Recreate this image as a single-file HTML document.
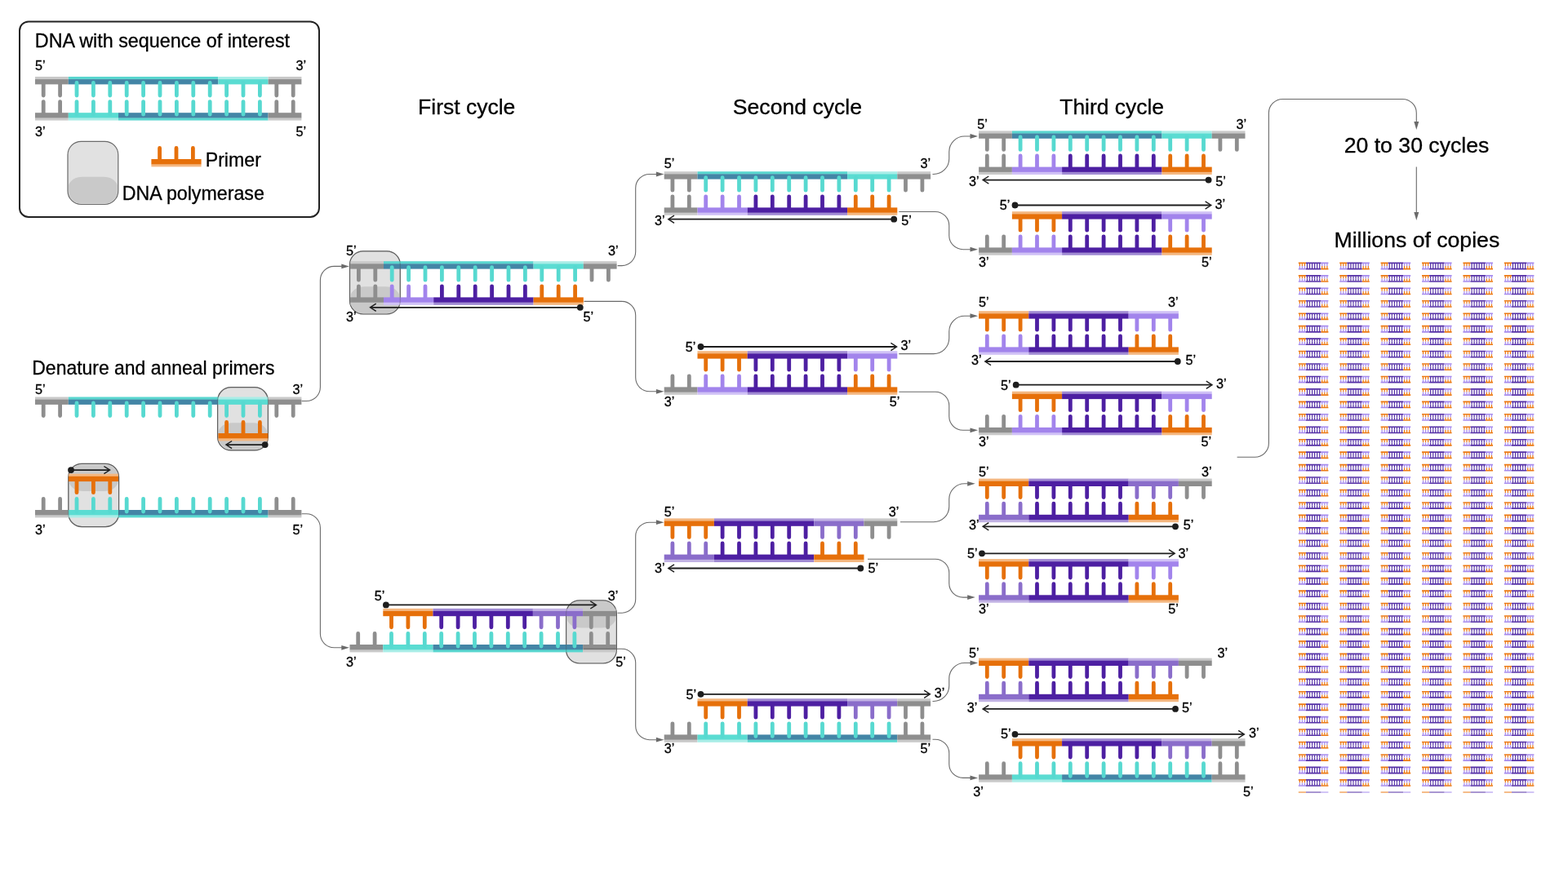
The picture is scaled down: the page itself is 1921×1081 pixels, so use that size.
<!DOCTYPE html>
<html lang="en">
<head>
<meta charset="utf-8">
<title>Polymerase chain reaction</title>
<style>
html,body{margin:0;padding:0;background:#fff;}
body{width:1921px;height:1081px;overflow:hidden;}
svg{display:block;}
text{font-family:"Liberation Sans",sans-serif;fill:#000;stroke:#000;stroke-width:0.3px;}
</style>
</head>
<body>
<svg width="1921" height="1081" viewBox="0 0 1921 1081">
<rect width="1921" height="1081" fill="#fff"/>
<rect x="24" y="26.4" width="367" height="239.6" rx="11" ry="11" fill="#fff" stroke="#222" stroke-width="2"/>
<text x="42.8" y="58.4" font-size="23.4" textLength="312.3" lengthAdjust="spacingAndGlyphs">DNA with sequence of interest</text>
<text x="43" y="86.2" font-size="16.2">5’</text>
<text x="362.5" y="86.2" font-size="16.2">3’</text>
<rect x="43" y="94" width="40.8" height="3.4" fill="#c9c9c9"/>
<rect x="43" y="97.1" width="40.8" height="6.3" fill="#8e8e8e"/>
<rect x="83.8" y="94" width="183.6" height="3.4" fill="#59d6cf"/>
<rect x="83.8" y="97.1" width="183.6" height="6.3" fill="#4385a6"/>
<rect x="267.4" y="94" width="61.2" height="3.4" fill="#a9ede7"/>
<rect x="267.4" y="97.1" width="61.2" height="6.3" fill="#5adcd2"/>
<rect x="328.6" y="94" width="40.8" height="3.4" fill="#c9c9c9"/>
<rect x="328.6" y="97.1" width="40.8" height="6.3" fill="#8e8e8e"/>
<path d="M53.2 101.4V117M73.6 101.4V117" stroke="#8e8e8e" stroke-width="4.8" stroke-linecap="round" fill="none"/>
<path d="M94 101.4V117M114.4 101.4V117M134.8 101.4V117M155.2 101.4V117M175.6 101.4V117M196 101.4V117M216.4 101.4V117M236.8 101.4V117M257.2 101.4V117" stroke="#57d9d0" stroke-width="4.8" stroke-linecap="round" fill="none"/>
<path d="M277.6 101.4V117M298 101.4V117M318.4 101.4V117" stroke="#57d9d0" stroke-width="4.8" stroke-linecap="round" fill="none"/>
<path d="M338.8 101.4V117M359.2 101.4V117" stroke="#8e8e8e" stroke-width="4.8" stroke-linecap="round" fill="none"/>
<rect x="43" y="144.2" width="40.8" height="3.4" fill="#c9c9c9"/>
<rect x="43" y="138.2" width="40.8" height="6.3" fill="#8e8e8e"/>
<rect x="83.8" y="144.2" width="61.2" height="3.4" fill="#a9ede7"/>
<rect x="83.8" y="138.2" width="61.2" height="6.3" fill="#5adcd2"/>
<rect x="145" y="144.2" width="183.6" height="3.4" fill="#59d6cf"/>
<rect x="145" y="138.2" width="183.6" height="6.3" fill="#4385a6"/>
<rect x="328.6" y="144.2" width="40.8" height="3.4" fill="#c9c9c9"/>
<rect x="328.6" y="138.2" width="40.8" height="6.3" fill="#8e8e8e"/>
<path d="M53.2 140.2V124.6M73.6 140.2V124.6" stroke="#8e8e8e" stroke-width="4.8" stroke-linecap="round" fill="none"/>
<path d="M94 140.2V124.6M114.4 140.2V124.6M134.8 140.2V124.6" stroke="#57d9d0" stroke-width="4.8" stroke-linecap="round" fill="none"/>
<path d="M155.2 140.2V124.6M175.6 140.2V124.6M196 140.2V124.6M216.4 140.2V124.6M236.8 140.2V124.6M257.2 140.2V124.6M277.6 140.2V124.6M298 140.2V124.6M318.4 140.2V124.6" stroke="#57d9d0" stroke-width="4.8" stroke-linecap="round" fill="none"/>
<path d="M338.8 140.2V124.6M359.2 140.2V124.6" stroke="#8e8e8e" stroke-width="4.8" stroke-linecap="round" fill="none"/>
<text x="43" y="166.5" font-size="16.2">3’</text>
<text x="362.5" y="166.5" font-size="16.2">5’</text>
<rect x="83" y="173.3" width="61.8" height="77.2" rx="16.4" ry="16.4" fill="#e1e1e1" stroke="#6a6a6a" stroke-width="1.2"/>
<path d="M84.1 226.8C86.6 220.8 92.1 216.8 101.1 216.8H126.7C135.7 216.8 141.2 220.8 143.7 226.8V234.1A15.3 15.3 0 0 1 128.4 249.4H99.4A15.3 15.3 0 0 1 84.1 234.1Z" fill="#c9c9c9"/>
<rect x="185.4" y="201" width="61.2" height="3.4" fill="#f4b780"/>
<rect x="185.4" y="195" width="61.2" height="6.3" fill="#e6700a"/>
<path d="M195.6 197V181.4M216 197V181.4M236.4 197V181.4" stroke="#e6700a" stroke-width="4.8" stroke-linecap="round" fill="none"/>
<text x="251.7" y="204" font-size="23.4" textLength="68.2" lengthAdjust="spacingAndGlyphs">Primer</text>
<text x="149.7" y="245" font-size="23.4" textLength="174.2" lengthAdjust="spacingAndGlyphs">DNA polymerase</text>
<text x="39.3" y="458.8" font-size="23.4" textLength="297.2" lengthAdjust="spacingAndGlyphs">Denature and anneal primers</text>
<text x="43" y="483.1" font-size="16.2">5’</text>
<text x="358.6" y="483.1" font-size="16.2">3’</text>
<rect x="266.6" y="474.7" width="61.8" height="77.2" rx="16.4" ry="16.4" fill="#e1e1e1" stroke="#6a6a6a" stroke-width="1.2"/>
<path d="M267.7 528.2C270.2 522.2 275.7 518.2 284.7 518.2H310.3C319.3 518.2 324.8 522.2 327.3 528.2V535.5A15.3 15.3 0 0 1 312 550.8H283A15.3 15.3 0 0 1 267.7 535.5Z" fill="#c9c9c9"/>
<rect x="43" y="486.5" width="40.8" height="3.4" fill="#c9c9c9"/>
<rect x="43" y="489.6" width="40.8" height="6.3" fill="#8e8e8e"/>
<rect x="83.8" y="486.5" width="183.6" height="3.4" fill="#59d6cf"/>
<rect x="83.8" y="489.6" width="183.6" height="6.3" fill="#4385a6"/>
<rect x="267.4" y="486.5" width="61.2" height="3.4" fill="#a9ede7"/>
<rect x="267.4" y="489.6" width="61.2" height="6.3" fill="#5adcd2"/>
<rect x="328.6" y="486.5" width="40.8" height="3.4" fill="#c9c9c9"/>
<rect x="328.6" y="489.6" width="40.8" height="6.3" fill="#8e8e8e"/>
<path d="M53.2 493.9V509.5M73.6 493.9V509.5" stroke="#8e8e8e" stroke-width="4.8" stroke-linecap="round" fill="none"/>
<path d="M94 493.9V509.5M114.4 493.9V509.5M134.8 493.9V509.5M155.2 493.9V509.5M175.6 493.9V509.5M196 493.9V509.5M216.4 493.9V509.5M236.8 493.9V509.5M257.2 493.9V509.5" stroke="#57d9d0" stroke-width="4.8" stroke-linecap="round" fill="none"/>
<path d="M277.6 493.9V509.5M298 493.9V509.5M318.4 493.9V509.5" stroke="#57d9d0" stroke-width="4.8" stroke-linecap="round" fill="none"/>
<path d="M338.8 493.9V509.5M359.2 493.9V509.5" stroke="#8e8e8e" stroke-width="4.8" stroke-linecap="round" fill="none"/>
<rect x="267.4" y="537" width="61.2" height="3.4" fill="#f4b780"/>
<rect x="267.4" y="531" width="61.2" height="6.3" fill="#e6700a"/>
<path d="M277.6 533V517.4M298 533V517.4M318.4 533V517.4" stroke="#e6700a" stroke-width="4.8" stroke-linecap="round" fill="none"/>
<rect x="266.6" y="474.7" width="61.8" height="77.2" rx="16.4" ry="16.4" fill="none" stroke="#444" stroke-opacity="0.3" stroke-width="1.1"/>
<path d="M324.7 545.1H277.7" stroke="#1d1d1d" stroke-width="1.8" fill="none"/>
<path d="M284.1 540.5L276.9 545.1L284.1 549.7" stroke="#1d1d1d" stroke-width="1.4" fill="none" stroke-linejoin="miter"/>
<circle cx="324.7" cy="545.1" r="3.9" fill="#1d1d1d"/>
<rect x="83.8" y="568.4" width="61.8" height="77.2" rx="16.4" ry="16.4" fill="#e1e1e1" stroke="#6a6a6a" stroke-width="1.2"/>
<path d="M84.9 592.1C87.4 598.1 92.9 602.1 101.9 602.1H127.5C136.5 602.1 142 598.1 144.5 592.1V584.8A15.3 15.3 0 0 0 129.2 569.5H100.2A15.3 15.3 0 0 0 84.9 584.8Z" fill="#c9c9c9"/>
<rect x="83.8" y="580.7" width="61.2" height="3.4" fill="#f4b780"/>
<rect x="83.8" y="583.8" width="61.2" height="6.3" fill="#e6700a"/>
<path d="M94 588.1V603.7M114.4 588.1V603.7M134.8 588.1V603.7" stroke="#e6700a" stroke-width="4.8" stroke-linecap="round" fill="none"/>
<rect x="43" y="631" width="40.8" height="3.4" fill="#c9c9c9"/>
<rect x="43" y="625" width="40.8" height="6.3" fill="#8e8e8e"/>
<rect x="83.8" y="631" width="61.2" height="3.4" fill="#a9ede7"/>
<rect x="83.8" y="625" width="61.2" height="6.3" fill="#5adcd2"/>
<rect x="145" y="631" width="183.6" height="3.4" fill="#59d6cf"/>
<rect x="145" y="625" width="183.6" height="6.3" fill="#4385a6"/>
<rect x="328.6" y="631" width="40.8" height="3.4" fill="#c9c9c9"/>
<rect x="328.6" y="625" width="40.8" height="6.3" fill="#8e8e8e"/>
<path d="M53.2 627V611.4M73.6 627V611.4" stroke="#8e8e8e" stroke-width="4.8" stroke-linecap="round" fill="none"/>
<path d="M94 627V611.4M114.4 627V611.4M134.8 627V611.4" stroke="#57d9d0" stroke-width="4.8" stroke-linecap="round" fill="none"/>
<path d="M155.2 627V611.4M175.6 627V611.4M196 627V611.4M216.4 627V611.4M236.8 627V611.4M257.2 627V611.4M277.6 627V611.4M298 627V611.4M318.4 627V611.4" stroke="#57d9d0" stroke-width="4.8" stroke-linecap="round" fill="none"/>
<path d="M338.8 627V611.4M359.2 627V611.4" stroke="#8e8e8e" stroke-width="4.8" stroke-linecap="round" fill="none"/>
<rect x="83.8" y="568.4" width="61.8" height="77.2" rx="16.4" ry="16.4" fill="none" stroke="#444" stroke-opacity="0.3" stroke-width="1.1"/>
<path d="M87 576.1H133.8" stroke="#1d1d1d" stroke-width="1.8" fill="none"/>
<path d="M127.4 571.5L134.6 576.1L127.4 580.7" stroke="#1d1d1d" stroke-width="1.4" fill="none" stroke-linejoin="miter"/>
<circle cx="87" cy="576.1" r="3.9" fill="#1d1d1d"/>
<text x="43" y="655.4" font-size="16.2">3’</text>
<text x="358.6" y="655.4" font-size="16.2">5’</text>
<text x="512.1" y="140" font-size="26.2" textLength="119.2" lengthAdjust="spacingAndGlyphs">First cycle</text>
<rect x="428.5" y="307.8" width="61.8" height="77.2" rx="16.4" ry="16.4" fill="#e1e1e1" stroke="#6a6a6a" stroke-width="1.2"/>
<path d="M429.6 361.3C432.1 355.3 437.6 351.3 446.6 351.3H472.2C481.2 351.3 486.7 355.3 489.2 361.3V368.6A15.3 15.3 0 0 1 473.9 383.9H444.9A15.3 15.3 0 0 1 429.6 368.6Z" fill="#c9c9c9"/>
<rect x="429.2" y="320.2" width="40.8" height="3.4" fill="#c9c9c9"/>
<rect x="429.2" y="323.3" width="40.8" height="6.3" fill="#8e8e8e"/>
<rect x="470" y="320.2" width="183.6" height="3.4" fill="#59d6cf"/>
<rect x="470" y="323.3" width="183.6" height="6.3" fill="#4385a6"/>
<rect x="653.6" y="320.2" width="61.2" height="3.4" fill="#a9ede7"/>
<rect x="653.6" y="323.3" width="61.2" height="6.3" fill="#5adcd2"/>
<rect x="714.8" y="320.2" width="40.8" height="3.4" fill="#c9c9c9"/>
<rect x="714.8" y="323.3" width="40.8" height="6.3" fill="#8e8e8e"/>
<path d="M439.4 327.6V343.2M459.8 327.6V343.2" stroke="#8e8e8e" stroke-width="4.8" stroke-linecap="round" fill="none"/>
<path d="M480.2 327.6V343.2M500.6 327.6V343.2M521 327.6V343.2M541.4 327.6V343.2M561.8 327.6V343.2M582.2 327.6V343.2M602.6 327.6V343.2M623 327.6V343.2M643.4 327.6V343.2" stroke="#57d9d0" stroke-width="4.8" stroke-linecap="round" fill="none"/>
<path d="M663.8 327.6V343.2M684.2 327.6V343.2M704.6 327.6V343.2" stroke="#57d9d0" stroke-width="4.8" stroke-linecap="round" fill="none"/>
<path d="M725 327.6V343.2M745.4 327.6V343.2" stroke="#8e8e8e" stroke-width="4.8" stroke-linecap="round" fill="none"/>
<rect x="429.2" y="370.4" width="40.8" height="3.4" fill="#c9c9c9"/>
<rect x="429.2" y="364.4" width="40.8" height="6.3" fill="#8e8e8e"/>
<rect x="470" y="370.4" width="61.2" height="3.4" fill="#d0c1f6"/>
<rect x="470" y="364.4" width="61.2" height="6.3" fill="#a284ec"/>
<rect x="531.2" y="370.4" width="122.4" height="3.4" fill="#a08ad3"/>
<rect x="531.2" y="364.4" width="122.4" height="6.3" fill="#4d1fa2"/>
<rect x="653.6" y="370.4" width="61.2" height="3.4" fill="#f4b780"/>
<rect x="653.6" y="364.4" width="61.2" height="6.3" fill="#e6700a"/>
<path d="M439.4 366.4V350.8M459.8 366.4V350.8" stroke="#8e8e8e" stroke-width="4.8" stroke-linecap="round" fill="none"/>
<path d="M480.2 366.4V350.8M500.6 366.4V350.8M521 366.4V350.8" stroke="#a284ec" stroke-width="4.8" stroke-linecap="round" fill="none"/>
<path d="M541.4 366.4V350.8M561.8 366.4V350.8M582.2 366.4V350.8M602.6 366.4V350.8M623 366.4V350.8M643.4 366.4V350.8" stroke="#4d1fa2" stroke-width="4.8" stroke-linecap="round" fill="none"/>
<path d="M663.8 366.4V350.8M684.2 366.4V350.8M704.6 366.4V350.8" stroke="#e6700a" stroke-width="4.8" stroke-linecap="round" fill="none"/>
<rect x="428.5" y="307.8" width="61.8" height="77.2" rx="16.4" ry="16.4" fill="none" stroke="#444" stroke-opacity="0.3" stroke-width="1.1"/>
<path d="M710.8 376.8H454.3" stroke="#1d1d1d" stroke-width="1.8" fill="none"/>
<path d="M460.7 372.2L453.5 376.8L460.7 381.4" stroke="#1d1d1d" stroke-width="1.4" fill="none" stroke-linejoin="miter"/>
<circle cx="710.8" cy="376.8" r="3.9" fill="#1d1d1d"/>
<text x="424" y="313.3" font-size="16.2">5’</text>
<text x="745" y="313.3" font-size="16.2">3’</text>
<text x="424" y="393.9" font-size="16.2">3’</text>
<text x="714.5" y="393.9" font-size="16.2">5’</text>
<rect x="693.6" y="735.8" width="61.8" height="77.2" rx="16.4" ry="16.4" fill="#e1e1e1" stroke="#6a6a6a" stroke-width="1.2"/>
<path d="M694.7 759.5C697.2 765.5 702.7 769.5 711.7 769.5H737.3C746.3 769.5 751.8 765.5 754.3 759.5V752.2A15.3 15.3 0 0 0 739 736.9H710A15.3 15.3 0 0 0 694.7 752.2Z" fill="#c9c9c9"/>
<rect x="469.3" y="745.8" width="61.2" height="3.4" fill="#f4b780"/>
<rect x="469.3" y="748.9" width="61.2" height="6.3" fill="#e6700a"/>
<rect x="530.5" y="745.8" width="122.4" height="3.4" fill="#a08ad3"/>
<rect x="530.5" y="748.9" width="122.4" height="6.3" fill="#4d1fa2"/>
<rect x="652.9" y="745.8" width="61.2" height="3.4" fill="#c2b3e4"/>
<rect x="652.9" y="748.9" width="61.2" height="6.3" fill="#8a6dca"/>
<rect x="714.1" y="745.8" width="40.8" height="3.4" fill="#c9c9c9"/>
<rect x="714.1" y="748.9" width="40.8" height="6.3" fill="#8e8e8e"/>
<path d="M479.5 753.2V768.8M499.9 753.2V768.8M520.3 753.2V768.8" stroke="#e6700a" stroke-width="4.8" stroke-linecap="round" fill="none"/>
<path d="M540.7 753.2V768.8M561.1 753.2V768.8M581.5 753.2V768.8M601.9 753.2V768.8M622.3 753.2V768.8M642.7 753.2V768.8" stroke="#4d1fa2" stroke-width="4.8" stroke-linecap="round" fill="none"/>
<path d="M663.1 753.2V768.8M683.5 753.2V768.8M703.9 753.2V768.8" stroke="#8a6dca" stroke-width="4.8" stroke-linecap="round" fill="none"/>
<path d="M724.3 753.2V768.8M744.7 753.2V768.8" stroke="#8e8e8e" stroke-width="4.8" stroke-linecap="round" fill="none"/>
<rect x="428.5" y="796" width="40.8" height="3.4" fill="#c9c9c9"/>
<rect x="428.5" y="790" width="40.8" height="6.3" fill="#8e8e8e"/>
<rect x="469.3" y="796" width="61.2" height="3.4" fill="#a9ede7"/>
<rect x="469.3" y="790" width="61.2" height="6.3" fill="#5adcd2"/>
<rect x="530.5" y="796" width="183.6" height="3.4" fill="#59d6cf"/>
<rect x="530.5" y="790" width="183.6" height="6.3" fill="#4385a6"/>
<rect x="714.1" y="796" width="40.8" height="3.4" fill="#c9c9c9"/>
<rect x="714.1" y="790" width="40.8" height="6.3" fill="#8e8e8e"/>
<path d="M438.7 792V776.4M459.1 792V776.4" stroke="#8e8e8e" stroke-width="4.8" stroke-linecap="round" fill="none"/>
<path d="M479.5 792V776.4M499.9 792V776.4M520.3 792V776.4" stroke="#57d9d0" stroke-width="4.8" stroke-linecap="round" fill="none"/>
<path d="M540.7 792V776.4M561.1 792V776.4M581.5 792V776.4M601.9 792V776.4M622.3 792V776.4M642.7 792V776.4M663.1 792V776.4M683.5 792V776.4M703.9 792V776.4" stroke="#57d9d0" stroke-width="4.8" stroke-linecap="round" fill="none"/>
<path d="M724.3 792V776.4M744.7 792V776.4" stroke="#8e8e8e" stroke-width="4.8" stroke-linecap="round" fill="none"/>
<rect x="693.6" y="735.8" width="61.8" height="77.2" rx="16.4" ry="16.4" fill="none" stroke="#444" stroke-opacity="0.3" stroke-width="1.1"/>
<path d="M472.9 741.4H729.7" stroke="#1d1d1d" stroke-width="1.8" fill="none"/>
<path d="M723.3 736.8L730.5 741.4L723.3 746" stroke="#1d1d1d" stroke-width="1.4" fill="none" stroke-linejoin="miter"/>
<circle cx="472.9" cy="741.4" r="3.9" fill="#1d1d1d"/>
<text x="458.7" y="736.2" font-size="16.2">5’</text>
<text x="744.7" y="736.2" font-size="16.2">3’</text>
<text x="424" y="817.1" font-size="16.2">3’</text>
<text x="754.3" y="817.1" font-size="16.2">5’</text>
<path d="M369.6 491.5H375.4A17 17 0 0 0 392.4 474.5V343.4A17 17 0 0 1 409.4 326.4H419.9" stroke="#6a6a6a" stroke-width="1.1" fill="none"/>
<path d="M427.9 326.4L418.3 323.5V329.3Z" fill="#6a6a6a"/>
<path d="M369.6 629.8H375.4A17 17 0 0 1 392.4 646.8V776.8A17 17 0 0 0 409.4 793.8H419.9" stroke="#6a6a6a" stroke-width="1.1" fill="none"/>
<path d="M427.9 793.8L418.3 790.9V796.7Z" fill="#6a6a6a"/>
<text x="897.8" y="139.8" font-size="26.2" textLength="158.2" lengthAdjust="spacingAndGlyphs">Second cycle</text>
<rect x="813.7" y="210.2" width="40.8" height="3.4" fill="#c9c9c9"/>
<rect x="813.7" y="213.3" width="40.8" height="6.3" fill="#8e8e8e"/>
<rect x="854.5" y="210.2" width="183.6" height="3.4" fill="#59d6cf"/>
<rect x="854.5" y="213.3" width="183.6" height="6.3" fill="#4385a6"/>
<rect x="1038.1" y="210.2" width="61.2" height="3.4" fill="#a9ede7"/>
<rect x="1038.1" y="213.3" width="61.2" height="6.3" fill="#5adcd2"/>
<rect x="1099.3" y="210.2" width="40.8" height="3.4" fill="#c9c9c9"/>
<rect x="1099.3" y="213.3" width="40.8" height="6.3" fill="#8e8e8e"/>
<path d="M823.9 217.6V233.2M844.3 217.6V233.2" stroke="#8e8e8e" stroke-width="4.8" stroke-linecap="round" fill="none"/>
<path d="M864.7 217.6V233.2M885.1 217.6V233.2M905.5 217.6V233.2M925.9 217.6V233.2M946.3 217.6V233.2M966.7 217.6V233.2M987.1 217.6V233.2M1007.5 217.6V233.2M1027.9 217.6V233.2" stroke="#57d9d0" stroke-width="4.8" stroke-linecap="round" fill="none"/>
<path d="M1048.3 217.6V233.2M1068.7 217.6V233.2M1089.1 217.6V233.2" stroke="#57d9d0" stroke-width="4.8" stroke-linecap="round" fill="none"/>
<path d="M1109.5 217.6V233.2M1129.9 217.6V233.2" stroke="#8e8e8e" stroke-width="4.8" stroke-linecap="round" fill="none"/>
<rect x="813.7" y="260.4" width="40.8" height="3.4" fill="#c9c9c9"/>
<rect x="813.7" y="254.4" width="40.8" height="6.3" fill="#8e8e8e"/>
<rect x="854.5" y="260.4" width="61.2" height="3.4" fill="#d0c1f6"/>
<rect x="854.5" y="254.4" width="61.2" height="6.3" fill="#a284ec"/>
<rect x="915.7" y="260.4" width="122.4" height="3.4" fill="#a08ad3"/>
<rect x="915.7" y="254.4" width="122.4" height="6.3" fill="#4d1fa2"/>
<rect x="1038.1" y="260.4" width="61.2" height="3.4" fill="#f4b780"/>
<rect x="1038.1" y="254.4" width="61.2" height="6.3" fill="#e6700a"/>
<path d="M823.9 256.4V240.8M844.3 256.4V240.8" stroke="#8e8e8e" stroke-width="4.8" stroke-linecap="round" fill="none"/>
<path d="M864.7 256.4V240.8M885.1 256.4V240.8M905.5 256.4V240.8" stroke="#a284ec" stroke-width="4.8" stroke-linecap="round" fill="none"/>
<path d="M925.9 256.4V240.8M946.3 256.4V240.8M966.7 256.4V240.8M987.1 256.4V240.8M1007.5 256.4V240.8M1027.9 256.4V240.8" stroke="#4d1fa2" stroke-width="4.8" stroke-linecap="round" fill="none"/>
<path d="M1048.3 256.4V240.8M1068.7 256.4V240.8M1089.1 256.4V240.8" stroke="#e6700a" stroke-width="4.8" stroke-linecap="round" fill="none"/>
<path d="M1095.2 268.7H819.6" stroke="#1d1d1d" stroke-width="1.8" fill="none"/>
<path d="M826 264.1L818.8 268.7L826 273.3" stroke="#1d1d1d" stroke-width="1.4" fill="none" stroke-linejoin="miter"/>
<circle cx="1095.2" cy="268.7" r="3.9" fill="#1d1d1d"/>
<text x="813.8" y="206.2" font-size="16.2">5’</text>
<text x="1127.6" y="206.2" font-size="16.2">3’</text>
<text x="802" y="275.6" font-size="16.2">3’</text>
<text x="1104.2" y="275.6" font-size="16.2">5’</text>
<rect x="854.5" y="430.2" width="61.2" height="3.4" fill="#f4b780"/>
<rect x="854.5" y="433.3" width="61.2" height="6.3" fill="#e6700a"/>
<rect x="915.7" y="430.2" width="122.4" height="3.4" fill="#a08ad3"/>
<rect x="915.7" y="433.3" width="122.4" height="6.3" fill="#4d1fa2"/>
<rect x="1038.1" y="430.2" width="61.2" height="3.4" fill="#d0c1f6"/>
<rect x="1038.1" y="433.3" width="61.2" height="6.3" fill="#a284ec"/>
<path d="M864.7 437.6V453.2M885.1 437.6V453.2M905.5 437.6V453.2" stroke="#e6700a" stroke-width="4.8" stroke-linecap="round" fill="none"/>
<path d="M925.9 437.6V453.2M946.3 437.6V453.2M966.7 437.6V453.2M987.1 437.6V453.2M1007.5 437.6V453.2M1027.9 437.6V453.2" stroke="#4d1fa2" stroke-width="4.8" stroke-linecap="round" fill="none"/>
<path d="M1048.3 437.6V453.2M1068.7 437.6V453.2M1089.1 437.6V453.2" stroke="#a284ec" stroke-width="4.8" stroke-linecap="round" fill="none"/>
<rect x="813.7" y="480.4" width="40.8" height="3.4" fill="#c9c9c9"/>
<rect x="813.7" y="474.4" width="40.8" height="6.3" fill="#8e8e8e"/>
<rect x="854.5" y="480.4" width="61.2" height="3.4" fill="#d0c1f6"/>
<rect x="854.5" y="474.4" width="61.2" height="6.3" fill="#a284ec"/>
<rect x="915.7" y="480.4" width="122.4" height="3.4" fill="#a08ad3"/>
<rect x="915.7" y="474.4" width="122.4" height="6.3" fill="#4d1fa2"/>
<rect x="1038.1" y="480.4" width="61.2" height="3.4" fill="#f4b780"/>
<rect x="1038.1" y="474.4" width="61.2" height="6.3" fill="#e6700a"/>
<path d="M823.9 476.4V460.8M844.3 476.4V460.8" stroke="#8e8e8e" stroke-width="4.8" stroke-linecap="round" fill="none"/>
<path d="M864.7 476.4V460.8M885.1 476.4V460.8M905.5 476.4V460.8" stroke="#a284ec" stroke-width="4.8" stroke-linecap="round" fill="none"/>
<path d="M925.9 476.4V460.8M946.3 476.4V460.8M966.7 476.4V460.8M987.1 476.4V460.8M1007.5 476.4V460.8M1027.9 476.4V460.8" stroke="#4d1fa2" stroke-width="4.8" stroke-linecap="round" fill="none"/>
<path d="M1048.3 476.4V460.8M1068.7 476.4V460.8M1089.1 476.4V460.8" stroke="#e6700a" stroke-width="4.8" stroke-linecap="round" fill="none"/>
<path d="M858.5 425H1097.8" stroke="#1d1d1d" stroke-width="1.8" fill="none"/>
<path d="M1091.4 420.4L1098.6 425L1091.4 429.6" stroke="#1d1d1d" stroke-width="1.4" fill="none" stroke-linejoin="miter"/>
<circle cx="858.5" cy="425" r="3.9" fill="#1d1d1d"/>
<text x="839.7" y="431.1" font-size="16.2">5’</text>
<text x="1103.6" y="429.1" font-size="16.2">3’</text>
<text x="813.8" y="497.9" font-size="16.2">3’</text>
<text x="1089.8" y="497.9" font-size="16.2">5’</text>
<rect x="813.7" y="635.4" width="61.2" height="3.4" fill="#f4b780"/>
<rect x="813.7" y="638.5" width="61.2" height="6.3" fill="#e6700a"/>
<rect x="874.9" y="635.4" width="122.4" height="3.4" fill="#a08ad3"/>
<rect x="874.9" y="638.5" width="122.4" height="6.3" fill="#4d1fa2"/>
<rect x="997.3" y="635.4" width="61.2" height="3.4" fill="#c2b3e4"/>
<rect x="997.3" y="638.5" width="61.2" height="6.3" fill="#8a6dca"/>
<rect x="1058.5" y="635.4" width="40.8" height="3.4" fill="#c9c9c9"/>
<rect x="1058.5" y="638.5" width="40.8" height="6.3" fill="#8e8e8e"/>
<path d="M823.9 642.8V658.4M844.3 642.8V658.4M864.7 642.8V658.4" stroke="#e6700a" stroke-width="4.8" stroke-linecap="round" fill="none"/>
<path d="M885.1 642.8V658.4M905.5 642.8V658.4M925.9 642.8V658.4M946.3 642.8V658.4M966.7 642.8V658.4M987.1 642.8V658.4" stroke="#4d1fa2" stroke-width="4.8" stroke-linecap="round" fill="none"/>
<path d="M1007.5 642.8V658.4M1027.9 642.8V658.4M1048.3 642.8V658.4" stroke="#8a6dca" stroke-width="4.8" stroke-linecap="round" fill="none"/>
<path d="M1068.7 642.8V658.4M1089.1 642.8V658.4" stroke="#8e8e8e" stroke-width="4.8" stroke-linecap="round" fill="none"/>
<rect x="813.7" y="685.6" width="61.2" height="3.4" fill="#c2b3e4"/>
<rect x="813.7" y="679.6" width="61.2" height="6.3" fill="#8a6dca"/>
<rect x="874.9" y="685.6" width="122.4" height="3.4" fill="#a08ad3"/>
<rect x="874.9" y="679.6" width="122.4" height="6.3" fill="#4d1fa2"/>
<rect x="997.3" y="685.6" width="61.2" height="3.4" fill="#f4b780"/>
<rect x="997.3" y="679.6" width="61.2" height="6.3" fill="#e6700a"/>
<path d="M823.9 681.6V666M844.3 681.6V666M864.7 681.6V666" stroke="#8a6dca" stroke-width="4.8" stroke-linecap="round" fill="none"/>
<path d="M885.1 681.6V666M905.5 681.6V666M925.9 681.6V666M946.3 681.6V666M966.7 681.6V666M987.1 681.6V666" stroke="#4d1fa2" stroke-width="4.8" stroke-linecap="round" fill="none"/>
<path d="M1007.5 681.6V666M1027.9 681.6V666M1048.3 681.6V666" stroke="#e6700a" stroke-width="4.8" stroke-linecap="round" fill="none"/>
<path d="M1054.3 696.5H819.6" stroke="#1d1d1d" stroke-width="1.8" fill="none"/>
<path d="M826 691.9L818.8 696.5L826 701.1" stroke="#1d1d1d" stroke-width="1.4" fill="none" stroke-linejoin="miter"/>
<circle cx="1054.3" cy="696.5" r="3.9" fill="#1d1d1d"/>
<text x="813.8" y="633.1" font-size="16.2">5’</text>
<text x="1088.7" y="633.1" font-size="16.2">3’</text>
<text x="802" y="701.5" font-size="16.2">3’</text>
<text x="1063.5" y="701.5" font-size="16.2">5’</text>
<rect x="854.5" y="856.2" width="61.2" height="3.4" fill="#f4b780"/>
<rect x="854.5" y="859.3" width="61.2" height="6.3" fill="#e6700a"/>
<rect x="915.7" y="856.2" width="122.4" height="3.4" fill="#a08ad3"/>
<rect x="915.7" y="859.3" width="122.4" height="6.3" fill="#4d1fa2"/>
<rect x="1038.1" y="856.2" width="61.2" height="3.4" fill="#c2b3e4"/>
<rect x="1038.1" y="859.3" width="61.2" height="6.3" fill="#8a6dca"/>
<rect x="1099.3" y="856.2" width="40.8" height="3.4" fill="#c9c9c9"/>
<rect x="1099.3" y="859.3" width="40.8" height="6.3" fill="#8e8e8e"/>
<path d="M864.7 863.6V879.2M885.1 863.6V879.2M905.5 863.6V879.2" stroke="#e6700a" stroke-width="4.8" stroke-linecap="round" fill="none"/>
<path d="M925.9 863.6V879.2M946.3 863.6V879.2M966.7 863.6V879.2M987.1 863.6V879.2M1007.5 863.6V879.2M1027.9 863.6V879.2" stroke="#4d1fa2" stroke-width="4.8" stroke-linecap="round" fill="none"/>
<path d="M1048.3 863.6V879.2M1068.7 863.6V879.2M1089.1 863.6V879.2" stroke="#8a6dca" stroke-width="4.8" stroke-linecap="round" fill="none"/>
<path d="M1109.5 863.6V879.2M1129.9 863.6V879.2" stroke="#8e8e8e" stroke-width="4.8" stroke-linecap="round" fill="none"/>
<rect x="813.7" y="906.4" width="40.8" height="3.4" fill="#c9c9c9"/>
<rect x="813.7" y="900.4" width="40.8" height="6.3" fill="#8e8e8e"/>
<rect x="854.5" y="906.4" width="61.2" height="3.4" fill="#a9ede7"/>
<rect x="854.5" y="900.4" width="61.2" height="6.3" fill="#5adcd2"/>
<rect x="915.7" y="906.4" width="183.6" height="3.4" fill="#59d6cf"/>
<rect x="915.7" y="900.4" width="183.6" height="6.3" fill="#4385a6"/>
<rect x="1099.3" y="906.4" width="40.8" height="3.4" fill="#c9c9c9"/>
<rect x="1099.3" y="900.4" width="40.8" height="6.3" fill="#8e8e8e"/>
<path d="M823.9 902.4V886.8M844.3 902.4V886.8" stroke="#8e8e8e" stroke-width="4.8" stroke-linecap="round" fill="none"/>
<path d="M864.7 902.4V886.8M885.1 902.4V886.8M905.5 902.4V886.8" stroke="#57d9d0" stroke-width="4.8" stroke-linecap="round" fill="none"/>
<path d="M925.9 902.4V886.8M946.3 902.4V886.8M966.7 902.4V886.8M987.1 902.4V886.8M1007.5 902.4V886.8M1027.9 902.4V886.8M1048.3 902.4V886.8M1068.7 902.4V886.8M1089.1 902.4V886.8" stroke="#57d9d0" stroke-width="4.8" stroke-linecap="round" fill="none"/>
<path d="M1109.5 902.4V886.8M1129.9 902.4V886.8" stroke="#8e8e8e" stroke-width="4.8" stroke-linecap="round" fill="none"/>
<path d="M858.5 850.8H1138.6" stroke="#1d1d1d" stroke-width="1.8" fill="none"/>
<path d="M1132.2 846.2L1139.4 850.8L1132.2 855.4" stroke="#1d1d1d" stroke-width="1.4" fill="none" stroke-linejoin="miter"/>
<circle cx="858.5" cy="850.8" r="3.9" fill="#1d1d1d"/>
<text x="840.6" y="856.5" font-size="16.2">5’</text>
<text x="1144.8" y="854.9" font-size="16.2">3’</text>
<text x="813.8" y="922.9" font-size="16.2">3’</text>
<text x="1127.6" y="922.9" font-size="16.2">5’</text>
<path d="M756.6 325.6H761.7A17 17 0 0 0 778.7 308.6V230.5A17 17 0 0 1 795.7 213.5H805.5" stroke="#6a6a6a" stroke-width="1.1" fill="none"/>
<path d="M813.5 213.5L803.9 210.6V216.4Z" fill="#6a6a6a"/>
<path d="M715.5 369.4H761.7A17 17 0 0 1 778.7 386.4V462.8A17 17 0 0 0 795.7 479.8H805.5" stroke="#6a6a6a" stroke-width="1.1" fill="none"/>
<path d="M813.5 479.8L803.9 476.9V482.7Z" fill="#6a6a6a"/>
<path d="M756.6 751.2H761.7A17 17 0 0 0 778.7 734.2V657.2A17 17 0 0 1 795.7 640.2H805.5" stroke="#6a6a6a" stroke-width="1.1" fill="none"/>
<path d="M813.5 640.2L803.9 637.3V643.1Z" fill="#6a6a6a"/>
<path d="M715 795.3H761.7A17 17 0 0 1 778.7 812.3V889.7A17 17 0 0 0 795.7 906.7H805.5" stroke="#6a6a6a" stroke-width="1.1" fill="none"/>
<path d="M813.5 906.7L803.9 903.8V909.6Z" fill="#6a6a6a"/>
<text x="1298.3" y="139.8" font-size="26.2" textLength="127.7" lengthAdjust="spacingAndGlyphs">Third cycle</text>
<rect x="1199.1" y="160.4" width="40.8" height="3.4" fill="#c9c9c9"/>
<rect x="1199.1" y="163.5" width="40.8" height="6.3" fill="#8e8e8e"/>
<rect x="1239.9" y="160.4" width="183.6" height="3.4" fill="#59d6cf"/>
<rect x="1239.9" y="163.5" width="183.6" height="6.3" fill="#4385a6"/>
<rect x="1423.5" y="160.4" width="61.2" height="3.4" fill="#a9ede7"/>
<rect x="1423.5" y="163.5" width="61.2" height="6.3" fill="#5adcd2"/>
<rect x="1484.7" y="160.4" width="40.8" height="3.4" fill="#c9c9c9"/>
<rect x="1484.7" y="163.5" width="40.8" height="6.3" fill="#8e8e8e"/>
<path d="M1209.3 167.8V183.4M1229.7 167.8V183.4" stroke="#8e8e8e" stroke-width="4.8" stroke-linecap="round" fill="none"/>
<path d="M1250.1 167.8V183.4M1270.5 167.8V183.4M1290.9 167.8V183.4M1311.3 167.8V183.4M1331.7 167.8V183.4M1352.1 167.8V183.4M1372.5 167.8V183.4M1392.9 167.8V183.4M1413.3 167.8V183.4" stroke="#57d9d0" stroke-width="4.8" stroke-linecap="round" fill="none"/>
<path d="M1433.7 167.8V183.4M1454.1 167.8V183.4M1474.5 167.8V183.4" stroke="#57d9d0" stroke-width="4.8" stroke-linecap="round" fill="none"/>
<path d="M1494.9 167.8V183.4M1515.3 167.8V183.4" stroke="#8e8e8e" stroke-width="4.8" stroke-linecap="round" fill="none"/>
<rect x="1199.1" y="210.6" width="40.8" height="3.4" fill="#c9c9c9"/>
<rect x="1199.1" y="204.6" width="40.8" height="6.3" fill="#8e8e8e"/>
<rect x="1239.9" y="210.6" width="61.2" height="3.4" fill="#d0c1f6"/>
<rect x="1239.9" y="204.6" width="61.2" height="6.3" fill="#a284ec"/>
<rect x="1301.1" y="210.6" width="122.4" height="3.4" fill="#a08ad3"/>
<rect x="1301.1" y="204.6" width="122.4" height="6.3" fill="#4d1fa2"/>
<rect x="1423.5" y="210.6" width="61.2" height="3.4" fill="#f4b780"/>
<rect x="1423.5" y="204.6" width="61.2" height="6.3" fill="#e6700a"/>
<path d="M1209.3 206.6V191M1229.7 206.6V191" stroke="#8e8e8e" stroke-width="4.8" stroke-linecap="round" fill="none"/>
<path d="M1250.1 206.6V191M1270.5 206.6V191M1290.9 206.6V191" stroke="#a284ec" stroke-width="4.8" stroke-linecap="round" fill="none"/>
<path d="M1311.3 206.6V191M1331.7 206.6V191M1352.1 206.6V191M1372.5 206.6V191M1392.9 206.6V191M1413.3 206.6V191" stroke="#4d1fa2" stroke-width="4.8" stroke-linecap="round" fill="none"/>
<path d="M1433.7 206.6V191M1454.1 206.6V191M1474.5 206.6V191" stroke="#e6700a" stroke-width="4.8" stroke-linecap="round" fill="none"/>
<path d="M1480.6 220.6H1204.9" stroke="#1d1d1d" stroke-width="1.8" fill="none"/>
<path d="M1211.3 216L1204.1 220.6L1211.3 225.2" stroke="#1d1d1d" stroke-width="1.4" fill="none" stroke-linejoin="miter"/>
<circle cx="1480.6" cy="220.6" r="3.9" fill="#1d1d1d"/>
<text x="1197.3" y="158.1" font-size="16.2">5’</text>
<text x="1514.5" y="158.1" font-size="16.2">3’</text>
<text x="1187" y="227.5" font-size="16.2">3’</text>
<text x="1489.3" y="227.5" font-size="16.2">5’</text>
<rect x="1239.9" y="259.2" width="61.2" height="3.4" fill="#f4b780"/>
<rect x="1239.9" y="262.3" width="61.2" height="6.3" fill="#e6700a"/>
<rect x="1301.1" y="259.2" width="122.4" height="3.4" fill="#a08ad3"/>
<rect x="1301.1" y="262.3" width="122.4" height="6.3" fill="#4d1fa2"/>
<rect x="1423.5" y="259.2" width="61.2" height="3.4" fill="#d0c1f6"/>
<rect x="1423.5" y="262.3" width="61.2" height="6.3" fill="#a284ec"/>
<path d="M1250.1 266.6V282.2M1270.5 266.6V282.2M1290.9 266.6V282.2" stroke="#e6700a" stroke-width="4.8" stroke-linecap="round" fill="none"/>
<path d="M1311.3 266.6V282.2M1331.7 266.6V282.2M1352.1 266.6V282.2M1372.5 266.6V282.2M1392.9 266.6V282.2M1413.3 266.6V282.2" stroke="#4d1fa2" stroke-width="4.8" stroke-linecap="round" fill="none"/>
<path d="M1433.7 266.6V282.2M1454.1 266.6V282.2M1474.5 266.6V282.2" stroke="#a284ec" stroke-width="4.8" stroke-linecap="round" fill="none"/>
<rect x="1199.1" y="309.4" width="40.8" height="3.4" fill="#c9c9c9"/>
<rect x="1199.1" y="303.4" width="40.8" height="6.3" fill="#8e8e8e"/>
<rect x="1239.9" y="309.4" width="61.2" height="3.4" fill="#d0c1f6"/>
<rect x="1239.9" y="303.4" width="61.2" height="6.3" fill="#a284ec"/>
<rect x="1301.1" y="309.4" width="122.4" height="3.4" fill="#a08ad3"/>
<rect x="1301.1" y="303.4" width="122.4" height="6.3" fill="#4d1fa2"/>
<rect x="1423.5" y="309.4" width="61.2" height="3.4" fill="#f4b780"/>
<rect x="1423.5" y="303.4" width="61.2" height="6.3" fill="#e6700a"/>
<path d="M1209.3 305.4V289.8M1229.7 305.4V289.8" stroke="#8e8e8e" stroke-width="4.8" stroke-linecap="round" fill="none"/>
<path d="M1250.1 305.4V289.8M1270.5 305.4V289.8M1290.9 305.4V289.8" stroke="#a284ec" stroke-width="4.8" stroke-linecap="round" fill="none"/>
<path d="M1311.3 305.4V289.8M1331.7 305.4V289.8M1352.1 305.4V289.8M1372.5 305.4V289.8M1392.9 305.4V289.8M1413.3 305.4V289.8" stroke="#4d1fa2" stroke-width="4.8" stroke-linecap="round" fill="none"/>
<path d="M1433.7 305.4V289.8M1454.1 305.4V289.8M1474.5 305.4V289.8" stroke="#e6700a" stroke-width="4.8" stroke-linecap="round" fill="none"/>
<path d="M1243.5 251.5H1483" stroke="#1d1d1d" stroke-width="1.8" fill="none"/>
<path d="M1476.6 246.9L1483.8 251.5L1476.6 256.1" stroke="#1d1d1d" stroke-width="1.4" fill="none" stroke-linejoin="miter"/>
<circle cx="1243.5" cy="251.5" r="3.9" fill="#1d1d1d"/>
<text x="1224.7" y="257.3" font-size="16.2">5’</text>
<text x="1488.6" y="256" font-size="16.2">3’</text>
<text x="1199" y="326.5" font-size="16.2">3’</text>
<text x="1472" y="326.5" font-size="16.2">5’</text>
<rect x="1199.1" y="381.2" width="61.2" height="3.4" fill="#f4b780"/>
<rect x="1199.1" y="384.3" width="61.2" height="6.3" fill="#e6700a"/>
<rect x="1260.3" y="381.2" width="122.4" height="3.4" fill="#a08ad3"/>
<rect x="1260.3" y="384.3" width="122.4" height="6.3" fill="#4d1fa2"/>
<rect x="1382.7" y="381.2" width="61.2" height="3.4" fill="#d0c1f6"/>
<rect x="1382.7" y="384.3" width="61.2" height="6.3" fill="#a284ec"/>
<path d="M1209.3 388.6V404.2M1229.7 388.6V404.2M1250.1 388.6V404.2" stroke="#e6700a" stroke-width="4.8" stroke-linecap="round" fill="none"/>
<path d="M1270.5 388.6V404.2M1290.9 388.6V404.2M1311.3 388.6V404.2M1331.7 388.6V404.2M1352.1 388.6V404.2M1372.5 388.6V404.2" stroke="#4d1fa2" stroke-width="4.8" stroke-linecap="round" fill="none"/>
<path d="M1392.9 388.6V404.2M1413.3 388.6V404.2M1433.7 388.6V404.2" stroke="#a284ec" stroke-width="4.8" stroke-linecap="round" fill="none"/>
<rect x="1199.1" y="431.4" width="61.2" height="3.4" fill="#d0c1f6"/>
<rect x="1199.1" y="425.4" width="61.2" height="6.3" fill="#a284ec"/>
<rect x="1260.3" y="431.4" width="122.4" height="3.4" fill="#a08ad3"/>
<rect x="1260.3" y="425.4" width="122.4" height="6.3" fill="#4d1fa2"/>
<rect x="1382.7" y="431.4" width="61.2" height="3.4" fill="#f4b780"/>
<rect x="1382.7" y="425.4" width="61.2" height="6.3" fill="#e6700a"/>
<path d="M1209.3 427.4V411.8M1229.7 427.4V411.8M1250.1 427.4V411.8" stroke="#a284ec" stroke-width="4.8" stroke-linecap="round" fill="none"/>
<path d="M1270.5 427.4V411.8M1290.9 427.4V411.8M1311.3 427.4V411.8M1331.7 427.4V411.8M1352.1 427.4V411.8M1372.5 427.4V411.8" stroke="#4d1fa2" stroke-width="4.8" stroke-linecap="round" fill="none"/>
<path d="M1392.9 427.4V411.8M1413.3 427.4V411.8M1433.7 427.4V411.8" stroke="#e6700a" stroke-width="4.8" stroke-linecap="round" fill="none"/>
<path d="M1442.8 443H1207.6" stroke="#1d1d1d" stroke-width="1.8" fill="none"/>
<path d="M1214 438.4L1206.8 443L1214 447.6" stroke="#1d1d1d" stroke-width="1.4" fill="none" stroke-linejoin="miter"/>
<circle cx="1442.8" cy="443" r="3.9" fill="#1d1d1d"/>
<text x="1199" y="376.2" font-size="16.2">5’</text>
<text x="1430.9" y="376.2" font-size="16.2">3’</text>
<text x="1190" y="447.2" font-size="16.2">3’</text>
<text x="1452.6" y="447.2" font-size="16.2">5’</text>
<rect x="1239.9" y="479.7" width="61.2" height="3.4" fill="#f4b780"/>
<rect x="1239.9" y="482.8" width="61.2" height="6.3" fill="#e6700a"/>
<rect x="1301.1" y="479.7" width="122.4" height="3.4" fill="#a08ad3"/>
<rect x="1301.1" y="482.8" width="122.4" height="6.3" fill="#4d1fa2"/>
<rect x="1423.5" y="479.7" width="61.2" height="3.4" fill="#d0c1f6"/>
<rect x="1423.5" y="482.8" width="61.2" height="6.3" fill="#a284ec"/>
<path d="M1250.1 487.1V502.7M1270.5 487.1V502.7M1290.9 487.1V502.7" stroke="#e6700a" stroke-width="4.8" stroke-linecap="round" fill="none"/>
<path d="M1311.3 487.1V502.7M1331.7 487.1V502.7M1352.1 487.1V502.7M1372.5 487.1V502.7M1392.9 487.1V502.7M1413.3 487.1V502.7" stroke="#4d1fa2" stroke-width="4.8" stroke-linecap="round" fill="none"/>
<path d="M1433.7 487.1V502.7M1454.1 487.1V502.7M1474.5 487.1V502.7" stroke="#a284ec" stroke-width="4.8" stroke-linecap="round" fill="none"/>
<rect x="1199.1" y="529.9" width="40.8" height="3.4" fill="#c9c9c9"/>
<rect x="1199.1" y="523.9" width="40.8" height="6.3" fill="#8e8e8e"/>
<rect x="1239.9" y="529.9" width="61.2" height="3.4" fill="#d0c1f6"/>
<rect x="1239.9" y="523.9" width="61.2" height="6.3" fill="#a284ec"/>
<rect x="1301.1" y="529.9" width="122.4" height="3.4" fill="#a08ad3"/>
<rect x="1301.1" y="523.9" width="122.4" height="6.3" fill="#4d1fa2"/>
<rect x="1423.5" y="529.9" width="61.2" height="3.4" fill="#f4b780"/>
<rect x="1423.5" y="523.9" width="61.2" height="6.3" fill="#e6700a"/>
<path d="M1209.3 525.9V510.3M1229.7 525.9V510.3" stroke="#8e8e8e" stroke-width="4.8" stroke-linecap="round" fill="none"/>
<path d="M1250.1 525.9V510.3M1270.5 525.9V510.3M1290.9 525.9V510.3" stroke="#a284ec" stroke-width="4.8" stroke-linecap="round" fill="none"/>
<path d="M1311.3 525.9V510.3M1331.7 525.9V510.3M1352.1 525.9V510.3M1372.5 525.9V510.3M1392.9 525.9V510.3M1413.3 525.9V510.3" stroke="#4d1fa2" stroke-width="4.8" stroke-linecap="round" fill="none"/>
<path d="M1433.7 525.9V510.3M1454.1 525.9V510.3M1474.5 525.9V510.3" stroke="#e6700a" stroke-width="4.8" stroke-linecap="round" fill="none"/>
<path d="M1244.7 471.7H1484.2" stroke="#1d1d1d" stroke-width="1.8" fill="none"/>
<path d="M1477.8 467.1L1485 471.7L1477.8 476.3" stroke="#1d1d1d" stroke-width="1.4" fill="none" stroke-linejoin="miter"/>
<circle cx="1244.7" cy="471.7" r="3.9" fill="#1d1d1d"/>
<text x="1225.9" y="477.7" font-size="16.2">5’</text>
<text x="1490" y="476" font-size="16.2">3’</text>
<text x="1199" y="546.8" font-size="16.2">3’</text>
<text x="1471.4" y="546.8" font-size="16.2">5’</text>
<rect x="1199.1" y="586.6" width="61.2" height="3.4" fill="#f4b780"/>
<rect x="1199.1" y="589.7" width="61.2" height="6.3" fill="#e6700a"/>
<rect x="1260.3" y="586.6" width="122.4" height="3.4" fill="#a08ad3"/>
<rect x="1260.3" y="589.7" width="122.4" height="6.3" fill="#4d1fa2"/>
<rect x="1382.7" y="586.6" width="61.2" height="3.4" fill="#c2b3e4"/>
<rect x="1382.7" y="589.7" width="61.2" height="6.3" fill="#8a6dca"/>
<rect x="1443.9" y="586.6" width="40.8" height="3.4" fill="#c9c9c9"/>
<rect x="1443.9" y="589.7" width="40.8" height="6.3" fill="#8e8e8e"/>
<path d="M1209.3 594V609.6M1229.7 594V609.6M1250.1 594V609.6" stroke="#e6700a" stroke-width="4.8" stroke-linecap="round" fill="none"/>
<path d="M1270.5 594V609.6M1290.9 594V609.6M1311.3 594V609.6M1331.7 594V609.6M1352.1 594V609.6M1372.5 594V609.6" stroke="#4d1fa2" stroke-width="4.8" stroke-linecap="round" fill="none"/>
<path d="M1392.9 594V609.6M1413.3 594V609.6M1433.7 594V609.6" stroke="#8a6dca" stroke-width="4.8" stroke-linecap="round" fill="none"/>
<path d="M1454.1 594V609.6M1474.5 594V609.6" stroke="#8e8e8e" stroke-width="4.8" stroke-linecap="round" fill="none"/>
<rect x="1199.1" y="636.8" width="61.2" height="3.4" fill="#c2b3e4"/>
<rect x="1199.1" y="630.8" width="61.2" height="6.3" fill="#8a6dca"/>
<rect x="1260.3" y="636.8" width="122.4" height="3.4" fill="#a08ad3"/>
<rect x="1260.3" y="630.8" width="122.4" height="6.3" fill="#4d1fa2"/>
<rect x="1382.7" y="636.8" width="61.2" height="3.4" fill="#f4b780"/>
<rect x="1382.7" y="630.8" width="61.2" height="6.3" fill="#e6700a"/>
<path d="M1209.3 632.8V617.2M1229.7 632.8V617.2M1250.1 632.8V617.2" stroke="#8a6dca" stroke-width="4.8" stroke-linecap="round" fill="none"/>
<path d="M1270.5 632.8V617.2M1290.9 632.8V617.2M1311.3 632.8V617.2M1331.7 632.8V617.2M1352.1 632.8V617.2M1372.5 632.8V617.2" stroke="#4d1fa2" stroke-width="4.8" stroke-linecap="round" fill="none"/>
<path d="M1392.9 632.8V617.2M1413.3 632.8V617.2M1433.7 632.8V617.2" stroke="#e6700a" stroke-width="4.8" stroke-linecap="round" fill="none"/>
<path d="M1440 645.3H1204.9" stroke="#1d1d1d" stroke-width="1.8" fill="none"/>
<path d="M1211.3 640.7L1204.1 645.3L1211.3 649.9" stroke="#1d1d1d" stroke-width="1.4" fill="none" stroke-linejoin="miter"/>
<circle cx="1440" cy="645.3" r="3.9" fill="#1d1d1d"/>
<text x="1199" y="584.4" font-size="16.2">5’</text>
<text x="1472.1" y="584.4" font-size="16.2">3’</text>
<text x="1187" y="648.9" font-size="16.2">3’</text>
<text x="1449.7" y="648.9" font-size="16.2">5’</text>
<rect x="1199.1" y="685.1" width="61.2" height="3.4" fill="#f4b780"/>
<rect x="1199.1" y="688.2" width="61.2" height="6.3" fill="#e6700a"/>
<rect x="1260.3" y="685.1" width="122.4" height="3.4" fill="#a08ad3"/>
<rect x="1260.3" y="688.2" width="122.4" height="6.3" fill="#4d1fa2"/>
<rect x="1382.7" y="685.1" width="61.2" height="3.4" fill="#d0c1f6"/>
<rect x="1382.7" y="688.2" width="61.2" height="6.3" fill="#a284ec"/>
<path d="M1209.3 692.5V708.1M1229.7 692.5V708.1M1250.1 692.5V708.1" stroke="#e6700a" stroke-width="4.8" stroke-linecap="round" fill="none"/>
<path d="M1270.5 692.5V708.1M1290.9 692.5V708.1M1311.3 692.5V708.1M1331.7 692.5V708.1M1352.1 692.5V708.1M1372.5 692.5V708.1" stroke="#4d1fa2" stroke-width="4.8" stroke-linecap="round" fill="none"/>
<path d="M1392.9 692.5V708.1M1413.3 692.5V708.1M1433.7 692.5V708.1" stroke="#a284ec" stroke-width="4.8" stroke-linecap="round" fill="none"/>
<rect x="1199.1" y="735.3" width="61.2" height="3.4" fill="#c2b3e4"/>
<rect x="1199.1" y="729.3" width="61.2" height="6.3" fill="#8a6dca"/>
<rect x="1260.3" y="735.3" width="122.4" height="3.4" fill="#a08ad3"/>
<rect x="1260.3" y="729.3" width="122.4" height="6.3" fill="#4d1fa2"/>
<rect x="1382.7" y="735.3" width="61.2" height="3.4" fill="#f4b780"/>
<rect x="1382.7" y="729.3" width="61.2" height="6.3" fill="#e6700a"/>
<path d="M1209.3 731.3V715.7M1229.7 731.3V715.7M1250.1 731.3V715.7" stroke="#8a6dca" stroke-width="4.8" stroke-linecap="round" fill="none"/>
<path d="M1270.5 731.3V715.7M1290.9 731.3V715.7M1311.3 731.3V715.7M1331.7 731.3V715.7M1352.1 731.3V715.7M1372.5 731.3V715.7" stroke="#4d1fa2" stroke-width="4.8" stroke-linecap="round" fill="none"/>
<path d="M1392.9 731.3V715.7M1413.3 731.3V715.7M1433.7 731.3V715.7" stroke="#e6700a" stroke-width="4.8" stroke-linecap="round" fill="none"/>
<path d="M1203 678.3H1438.4" stroke="#1d1d1d" stroke-width="1.8" fill="none"/>
<path d="M1432 673.7L1439.2 678.3L1432 682.9" stroke="#1d1d1d" stroke-width="1.4" fill="none" stroke-linejoin="miter"/>
<circle cx="1203" cy="678.3" r="3.9" fill="#1d1d1d"/>
<text x="1185.1" y="684" font-size="16.2">5’</text>
<text x="1443.5" y="684" font-size="16.2">3’</text>
<text x="1199" y="752.3" font-size="16.2">3’</text>
<text x="1431.3" y="752.3" font-size="16.2">5’</text>
<rect x="1199.1" y="806.6" width="61.2" height="3.4" fill="#f4b780"/>
<rect x="1199.1" y="809.7" width="61.2" height="6.3" fill="#e6700a"/>
<rect x="1260.3" y="806.6" width="122.4" height="3.4" fill="#a08ad3"/>
<rect x="1260.3" y="809.7" width="122.4" height="6.3" fill="#4d1fa2"/>
<rect x="1382.7" y="806.6" width="61.2" height="3.4" fill="#c2b3e4"/>
<rect x="1382.7" y="809.7" width="61.2" height="6.3" fill="#8a6dca"/>
<rect x="1443.9" y="806.6" width="40.8" height="3.4" fill="#c9c9c9"/>
<rect x="1443.9" y="809.7" width="40.8" height="6.3" fill="#8e8e8e"/>
<path d="M1209.3 814V829.6M1229.7 814V829.6M1250.1 814V829.6" stroke="#e6700a" stroke-width="4.8" stroke-linecap="round" fill="none"/>
<path d="M1270.5 814V829.6M1290.9 814V829.6M1311.3 814V829.6M1331.7 814V829.6M1352.1 814V829.6M1372.5 814V829.6" stroke="#4d1fa2" stroke-width="4.8" stroke-linecap="round" fill="none"/>
<path d="M1392.9 814V829.6M1413.3 814V829.6M1433.7 814V829.6" stroke="#8a6dca" stroke-width="4.8" stroke-linecap="round" fill="none"/>
<path d="M1454.1 814V829.6M1474.5 814V829.6" stroke="#8e8e8e" stroke-width="4.8" stroke-linecap="round" fill="none"/>
<rect x="1199.1" y="856.8" width="61.2" height="3.4" fill="#c2b3e4"/>
<rect x="1199.1" y="850.8" width="61.2" height="6.3" fill="#8a6dca"/>
<rect x="1260.3" y="856.8" width="122.4" height="3.4" fill="#a08ad3"/>
<rect x="1260.3" y="850.8" width="122.4" height="6.3" fill="#4d1fa2"/>
<rect x="1382.7" y="856.8" width="61.2" height="3.4" fill="#f4b780"/>
<rect x="1382.7" y="850.8" width="61.2" height="6.3" fill="#e6700a"/>
<path d="M1209.3 852.8V837.2M1229.7 852.8V837.2M1250.1 852.8V837.2" stroke="#8a6dca" stroke-width="4.8" stroke-linecap="round" fill="none"/>
<path d="M1270.5 852.8V837.2M1290.9 852.8V837.2M1311.3 852.8V837.2M1331.7 852.8V837.2M1352.1 852.8V837.2M1372.5 852.8V837.2" stroke="#4d1fa2" stroke-width="4.8" stroke-linecap="round" fill="none"/>
<path d="M1392.9 852.8V837.2M1413.3 852.8V837.2M1433.7 852.8V837.2" stroke="#e6700a" stroke-width="4.8" stroke-linecap="round" fill="none"/>
<path d="M1440 868.9H1204.9" stroke="#1d1d1d" stroke-width="1.8" fill="none"/>
<path d="M1211.3 864.3L1204.1 868.9L1211.3 873.5" stroke="#1d1d1d" stroke-width="1.4" fill="none" stroke-linejoin="miter"/>
<circle cx="1440" cy="868.9" r="3.9" fill="#1d1d1d"/>
<text x="1187" y="805.5" font-size="16.2">5’</text>
<text x="1491.6" y="805.5" font-size="16.2">3’</text>
<text x="1184.7" y="873.1" font-size="16.2">3’</text>
<text x="1448" y="873.1" font-size="16.2">5’</text>
<rect x="1239.9" y="905.1" width="61.2" height="3.4" fill="#f4b780"/>
<rect x="1239.9" y="908.2" width="61.2" height="6.3" fill="#e6700a"/>
<rect x="1301.1" y="905.1" width="122.4" height="3.4" fill="#a08ad3"/>
<rect x="1301.1" y="908.2" width="122.4" height="6.3" fill="#4d1fa2"/>
<rect x="1423.5" y="905.1" width="61.2" height="3.4" fill="#c2b3e4"/>
<rect x="1423.5" y="908.2" width="61.2" height="6.3" fill="#8a6dca"/>
<rect x="1484.7" y="905.1" width="40.8" height="3.4" fill="#c9c9c9"/>
<rect x="1484.7" y="908.2" width="40.8" height="6.3" fill="#8e8e8e"/>
<path d="M1250.1 912.5V928.1M1270.5 912.5V928.1M1290.9 912.5V928.1" stroke="#e6700a" stroke-width="4.8" stroke-linecap="round" fill="none"/>
<path d="M1311.3 912.5V928.1M1331.7 912.5V928.1M1352.1 912.5V928.1M1372.5 912.5V928.1M1392.9 912.5V928.1M1413.3 912.5V928.1" stroke="#4d1fa2" stroke-width="4.8" stroke-linecap="round" fill="none"/>
<path d="M1433.7 912.5V928.1M1454.1 912.5V928.1M1474.5 912.5V928.1" stroke="#8a6dca" stroke-width="4.8" stroke-linecap="round" fill="none"/>
<path d="M1494.9 912.5V928.1M1515.3 912.5V928.1" stroke="#8e8e8e" stroke-width="4.8" stroke-linecap="round" fill="none"/>
<rect x="1199.1" y="955.3" width="40.8" height="3.4" fill="#c9c9c9"/>
<rect x="1199.1" y="949.3" width="40.8" height="6.3" fill="#8e8e8e"/>
<rect x="1239.9" y="955.3" width="61.2" height="3.4" fill="#a9ede7"/>
<rect x="1239.9" y="949.3" width="61.2" height="6.3" fill="#5adcd2"/>
<rect x="1301.1" y="955.3" width="183.6" height="3.4" fill="#59d6cf"/>
<rect x="1301.1" y="949.3" width="183.6" height="6.3" fill="#4385a6"/>
<rect x="1484.7" y="955.3" width="40.8" height="3.4" fill="#c9c9c9"/>
<rect x="1484.7" y="949.3" width="40.8" height="6.3" fill="#8e8e8e"/>
<path d="M1209.3 951.3V935.7M1229.7 951.3V935.7" stroke="#8e8e8e" stroke-width="4.8" stroke-linecap="round" fill="none"/>
<path d="M1250.1 951.3V935.7M1270.5 951.3V935.7M1290.9 951.3V935.7" stroke="#57d9d0" stroke-width="4.8" stroke-linecap="round" fill="none"/>
<path d="M1311.3 951.3V935.7M1331.7 951.3V935.7M1352.1 951.3V935.7M1372.5 951.3V935.7M1392.9 951.3V935.7M1413.3 951.3V935.7M1433.7 951.3V935.7M1454.1 951.3V935.7M1474.5 951.3V935.7" stroke="#57d9d0" stroke-width="4.8" stroke-linecap="round" fill="none"/>
<path d="M1494.9 951.3V935.7M1515.3 951.3V935.7" stroke="#8e8e8e" stroke-width="4.8" stroke-linecap="round" fill="none"/>
<path d="M1243.5 899.9H1523.6" stroke="#1d1d1d" stroke-width="1.8" fill="none"/>
<path d="M1517.2 895.3L1524.4 899.9L1517.2 904.5" stroke="#1d1d1d" stroke-width="1.4" fill="none" stroke-linejoin="miter"/>
<circle cx="1243.5" cy="899.9" r="3.9" fill="#1d1d1d"/>
<text x="1225.9" y="905.1" font-size="16.2">5’</text>
<text x="1530" y="903.7" font-size="16.2">3’</text>
<text x="1192.2" y="976.2" font-size="16.2">3’</text>
<text x="1523" y="976.2" font-size="16.2">5’</text>
<path d="M1142.5 213.5H1143.8A19 19 0 0 0 1162.8 194.5V186A19 19 0 0 1 1181.8 167H1190.1" stroke="#6a6a6a" stroke-width="1.1" fill="none"/>
<path d="M1198.1 167L1188.5 164.1V169.9Z" fill="#6a6a6a"/>
<path d="M1101.3 259.5H1145.8A17 17 0 0 1 1162.8 276.5V288.7A17 17 0 0 0 1179.8 305.7H1190.1" stroke="#6a6a6a" stroke-width="1.1" fill="none"/>
<path d="M1198.1 305.7L1188.5 302.8V308.6Z" fill="#6a6a6a"/>
<path d="M1101.3 433.6H1143.8A19 19 0 0 0 1162.8 414.6V406.2A19 19 0 0 1 1181.8 387.2H1190.1" stroke="#6a6a6a" stroke-width="1.1" fill="none"/>
<path d="M1198.1 387.2L1188.5 384.3V390.1Z" fill="#6a6a6a"/>
<path d="M1101.3 480.2H1145.8A17 17 0 0 1 1162.8 497.2V510.3A17 17 0 0 0 1179.8 527.3H1190.1" stroke="#6a6a6a" stroke-width="1.1" fill="none"/>
<path d="M1198.1 527.3L1188.5 524.4V530.2Z" fill="#6a6a6a"/>
<path d="M1103 639.8H1143.8A19 19 0 0 0 1162.8 620.8V611.8A19 19 0 0 1 1181.8 592.8H1186.8" stroke="#6a6a6a" stroke-width="1.1" fill="none"/>
<path d="M1194.8 592.8L1185.2 589.9V595.7Z" fill="#6a6a6a"/>
<path d="M1063 685.2H1145.8A17 17 0 0 1 1162.8 702.2V715.1A17 17 0 0 0 1179.8 732.1H1186.8" stroke="#6a6a6a" stroke-width="1.1" fill="none"/>
<path d="M1194.8 732.1L1185.2 729.2V735Z" fill="#6a6a6a"/>
<path d="M1142.5 859.5H1143.8A19 19 0 0 0 1162.8 840.5V831.5A19 19 0 0 1 1181.8 812.5H1190.1" stroke="#6a6a6a" stroke-width="1.1" fill="none"/>
<path d="M1198.1 812.5L1188.5 809.6V815.4Z" fill="#6a6a6a"/>
<path d="M1142.5 906.2H1145.8A17 17 0 0 1 1162.8 923.2V936.4A17 17 0 0 0 1179.8 953.4H1190.1" stroke="#6a6a6a" stroke-width="1.1" fill="none"/>
<path d="M1198.1 953.4L1188.5 950.5V956.3Z" fill="#6a6a6a"/>
<path d="M1515.6 560.3H1537.4A17 17 0 0 0 1554.4 543.3V138.5A17 17 0 0 1 1571.4 121.5H1718.3A17 17 0 0 1 1735.3 138.5V150" stroke="#6a6a6a" stroke-width="1.1" fill="none"/>
<path d="M1735.3 159L1732.3 149H1738.3Z" fill="#6a6a6a"/>
<text x="1646.7" y="186.6" font-size="26.2" textLength="177.7" lengthAdjust="spacingAndGlyphs">20 to 30 cycles</text>
<path d="M1735.3 204.4V261" stroke="#6a6a6a" stroke-width="1.1" fill="none"/>
<path d="M1735.3 270L1732.3 260H1738.3Z" fill="#6a6a6a"/>
<text x="1634.5" y="303.2" font-size="26.2" textLength="202.7" lengthAdjust="spacingAndGlyphs">Millions of copies</text>
<path d="M1595.38 321.6V971.4M1622.83 328.8V971.4M1645.78 321.6V971.4M1673.23 328.8V971.4M1696.17 321.6V971.4M1723.62 328.8V971.4M1746.58 321.6V971.4M1774.03 328.8V971.4M1796.97 321.6V971.4M1824.42 328.8V971.4M1847.38 321.6V971.4M1874.83 328.8V971.4" stroke="#ec7a14" stroke-width="9.15" stroke-dasharray="1.6 13.85" fill="none"/>
<path d="M1595.38 328.8V971.4M1622.83 321.6V971.4M1645.78 328.8V971.4M1673.23 321.6V971.4M1696.17 328.8V971.4M1723.62 321.6V971.4M1746.58 328.8V971.4M1774.03 321.6V971.4M1796.97 328.8V971.4M1824.42 321.6V971.4M1847.38 328.8V971.4M1874.83 321.6V971.4" stroke="#a68cee" stroke-width="9.15" stroke-dasharray="1.6 13.85" fill="none"/>
<path d="M1592.33 322.9V971.4M1595.38 322.9V971.4M1598.42 322.9V971.4M1619.77 326.1V971.4M1622.83 326.1V971.4M1625.88 326.1V971.4M1642.73 322.9V971.4M1645.78 322.9V971.4M1648.83 322.9V971.4M1670.17 326.1V971.4M1673.23 326.1V971.4M1676.28 326.1V971.4M1693.12 322.9V971.4M1696.17 322.9V971.4M1699.22 322.9V971.4M1720.57 326.1V971.4M1723.62 326.1V971.4M1726.67 326.1V971.4M1743.53 322.9V971.4M1746.58 322.9V971.4M1749.62 322.9V971.4M1770.97 326.1V971.4M1774.03 326.1V971.4M1777.08 326.1V971.4M1793.92 322.9V971.4M1796.97 322.9V971.4M1800.02 322.9V971.4M1821.37 326.1V971.4M1824.42 326.1V971.4M1827.47 326.1V971.4M1844.33 322.9V971.4M1847.38 322.9V971.4M1850.42 322.9V971.4M1871.77 326.1V971.4M1874.83 326.1V971.4M1877.88 326.1V971.4" stroke="#ec7a14" stroke-width="1.25" stroke-dasharray="3 12.45" fill="none"/>
<path d="M1592.33 326.1V971.4M1595.38 326.1V971.4M1598.42 326.1V971.4M1619.77 322.9V971.4M1622.83 322.9V971.4M1625.88 322.9V971.4M1642.73 326.1V971.4M1645.78 326.1V971.4M1648.83 326.1V971.4M1670.17 322.9V971.4M1673.23 322.9V971.4M1676.28 322.9V971.4M1693.12 326.1V971.4M1696.17 326.1V971.4M1699.22 326.1V971.4M1720.57 322.9V971.4M1723.62 322.9V971.4M1726.67 322.9V971.4M1743.53 326.1V971.4M1746.58 326.1V971.4M1749.62 326.1V971.4M1770.97 322.9V971.4M1774.03 322.9V971.4M1777.08 322.9V971.4M1793.92 326.1V971.4M1796.97 326.1V971.4M1800.02 326.1V971.4M1821.37 322.9V971.4M1824.42 322.9V971.4M1827.47 322.9V971.4M1844.33 326.1V971.4M1847.38 326.1V971.4M1850.42 326.1V971.4M1871.77 322.9V971.4M1874.83 322.9V971.4M1877.88 322.9V971.4" stroke="#a68cee" stroke-width="1.25" stroke-dasharray="3 12.45" fill="none"/>
<path d="M1609.1 321.6V971.4M1609.1 328.8V971.4M1659.5 321.6V971.4M1659.5 328.8V971.4M1709.9 321.6V971.4M1709.9 328.8V971.4M1760.3 321.6V971.4M1760.3 328.8V971.4M1810.7 321.6V971.4M1810.7 328.8V971.4M1861.1 321.6V971.4M1861.1 328.8V971.4" stroke="#5530a6" stroke-width="18.3" stroke-dasharray="1.6 13.85" fill="none"/>
<path d="M1601.47 322.9V971.4M1601.47 326.1V971.4M1604.52 322.9V971.4M1604.52 326.1V971.4M1607.58 322.9V971.4M1607.58 326.1V971.4M1610.62 322.9V971.4M1610.62 326.1V971.4M1613.67 322.9V971.4M1613.67 326.1V971.4M1616.72 322.9V971.4M1616.72 326.1V971.4M1651.88 322.9V971.4M1651.88 326.1V971.4M1654.92 322.9V971.4M1654.92 326.1V971.4M1657.98 322.9V971.4M1657.98 326.1V971.4M1661.03 322.9V971.4M1661.03 326.1V971.4M1664.08 322.9V971.4M1664.08 326.1V971.4M1667.12 322.9V971.4M1667.12 326.1V971.4M1702.27 322.9V971.4M1702.27 326.1V971.4M1705.32 322.9V971.4M1705.32 326.1V971.4M1708.38 322.9V971.4M1708.38 326.1V971.4M1711.42 322.9V971.4M1711.42 326.1V971.4M1714.47 322.9V971.4M1714.47 326.1V971.4M1717.52 322.9V971.4M1717.52 326.1V971.4M1752.67 322.9V971.4M1752.67 326.1V971.4M1755.72 322.9V971.4M1755.72 326.1V971.4M1758.78 322.9V971.4M1758.78 326.1V971.4M1761.83 322.9V971.4M1761.83 326.1V971.4M1764.88 322.9V971.4M1764.88 326.1V971.4M1767.92 322.9V971.4M1767.92 326.1V971.4M1803.07 322.9V971.4M1803.07 326.1V971.4M1806.12 322.9V971.4M1806.12 326.1V971.4M1809.17 322.9V971.4M1809.17 326.1V971.4M1812.22 322.9V971.4M1812.22 326.1V971.4M1815.27 322.9V971.4M1815.27 326.1V971.4M1818.32 322.9V971.4M1818.32 326.1V971.4M1853.47 322.9V971.4M1853.47 326.1V971.4M1856.52 322.9V971.4M1856.52 326.1V971.4M1859.58 322.9V971.4M1859.58 326.1V971.4M1862.62 322.9V971.4M1862.62 326.1V971.4M1865.67 322.9V971.4M1865.67 326.1V971.4M1868.72 322.9V971.4M1868.72 326.1V971.4" stroke="#5530a6" stroke-width="1.25" stroke-dasharray="3 12.45" fill="none"/>
</svg>
</body>
</html>
